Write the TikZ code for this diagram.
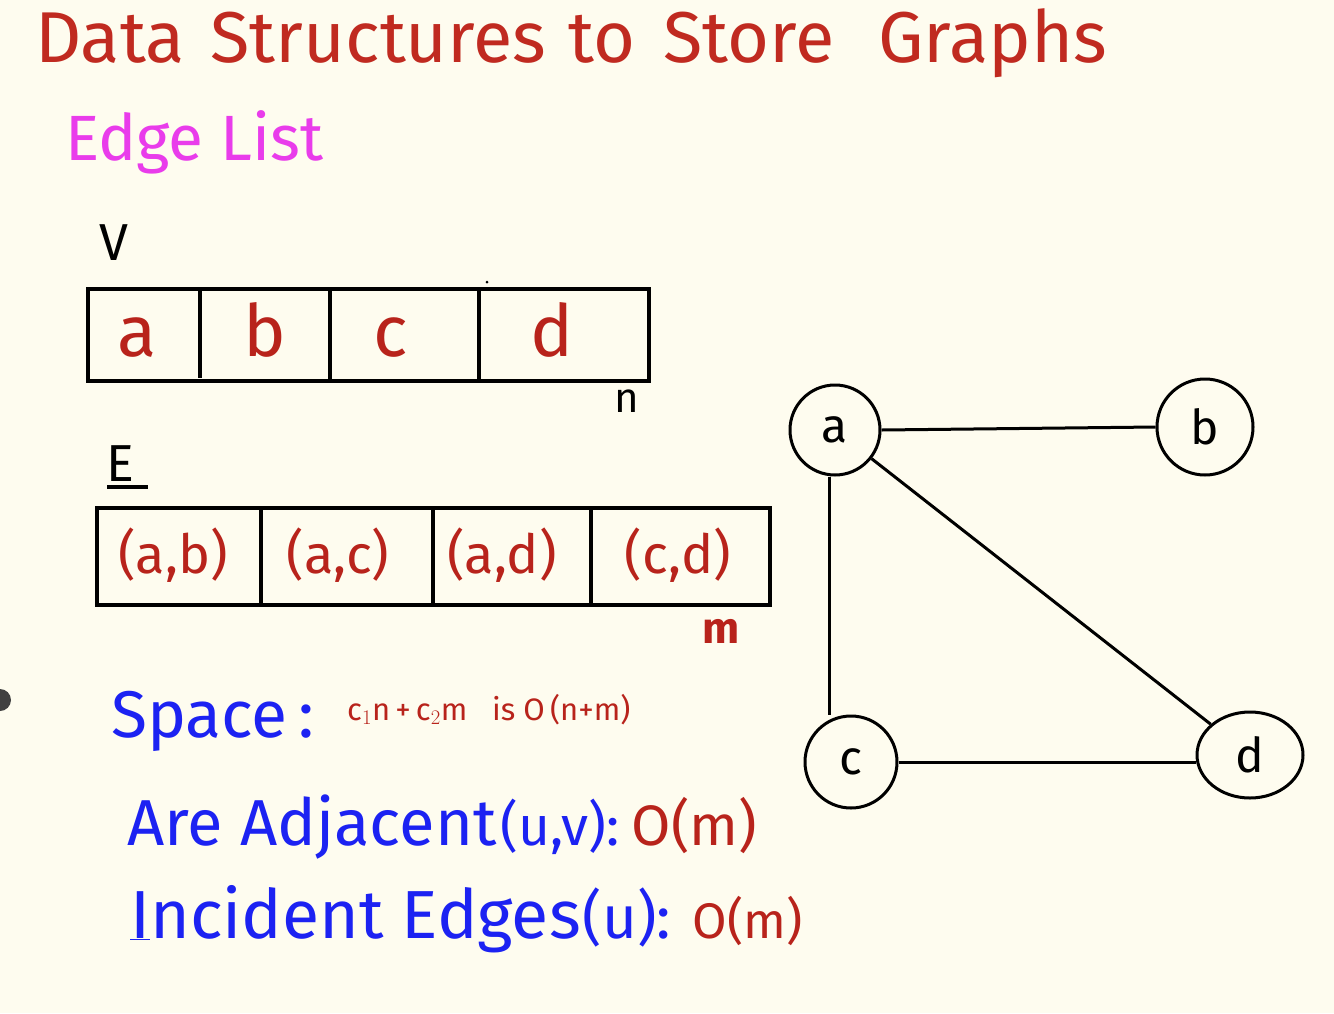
\documentclass[tikz,border=0pt]{standalone}
\usepackage{fontspec}
\setmainfont{Fira Sans}
\usetikzlibrary{shapes.geometric}
\definecolor{bgc}{HTML}{FEFCEF}
\definecolor{titlered}{HTML}{C02A20}
\definecolor{cellred}{HTML}{B8231B}
\definecolor{pinkm}{HTML}{E93CEB}
\definecolor{penblue}{HTML}{1C22F2}
\tikzset{
  fs/.style={font=\fontsize{#1}{#1}\selectfont},
  arr/.style={draw=black, line width=3.2pt},
  cell/.style={cellred, fs=72, anchor=base},
  ecell/.style={cellred, fs=54, anchor=base},
  vert/.style={draw=black, line width=3pt, circle, minimum size=#1, inner sep=0pt, fs=48},
  edge/.style={draw=black, line width=3pt},
  lbl/.style={anchor=base west, inner sep=0pt},
}
\begin{document}
\begin{tikzpicture}[x=1pt,y=-1pt]
\fill[bgc] (0,0) rectangle (1334,1013);
\useasboundingbox (0,0) rectangle (1334,1013);
% side knob
\fill[black!75] (0,700) circle (11);
% title
\node[lbl, titlered, fs=72] (title) at (35,62) {Data\hspace{26pt}Structures\hspace{22pt}to\hspace{28pt}Store\hspace{44pt}Graphs};
\node[lbl, pinkm, fs=64] (edgelist) at (65,160) {Edge List};
% V array
\node[lbl, fs=52] (vlab) at (99,260) {V};
\draw[arr] (88,289) rectangle (649,381);
\draw[arr] (200,289) -- (200,378);
\draw[arr] (330,289) -- (330,381);
\draw[arr] (479,289) -- (479,381);
\node[cell] (va) at (137,356) {a};
\node[cell] (vb) at (265,356) {b};
\node[cell] (vc) at (391,356) {c};
\node[cell] (vd) at (552,356) {d};
\fill (487,282) circle (1.5);
\node[lbl, fs=42] (nlab) at (614,412) {n};
% E array
\node[lbl, fs=52] (elab) at (106,481) {E};
\draw[line width=3.2pt] (107,487) -- (148,487);
\draw[arr] (97,508) rectangle (770,605);
\draw[arr] (261,508) -- (261,605);
\draw[arr] (433,508) -- (433,605);
\draw[arr] (591,508) -- (591,605);
\node[ecell] (eab) at (173,573) {(a,b)};
\node[ecell] (eac) at (338,573) {(a,c)};
\node[ecell] (ead) at (502,573) {(a,d)};
\node[ecell] (ecd) at (678,573) {(c,d)};
\node[lbl, cellred, font=\bfseries\fontsize{44}{44}\selectfont] (mlab) at (702,643) {m};
% bottom text
\node[lbl, penblue, fs=66] (space) at (111,737) {Space\,:};
\node[lbl, cellred, fs=31] (spacev) at (347,720) {c$_1$n\,+\,c$_2$m\ \ \ is\ O\,(n+m)};
\node[lbl, penblue, fs=65] (adj) at (127,845) {Are Adjacent\hspace{4pt}{\fontsize{55}{55}\selectfont(u,v):}\hspace{12pt}{\color{cellred}\fontsize{57}{57}\selectfont O(m)}};
\node[lbl, penblue, fs=68] (inc) at (130,938) {\underline{I}ncident Edges\hspace{2pt}{\fontsize{60}{60}\selectfont(u):}\hspace{22pt}{\color{cellred}\fontsize{50}{50}\selectfont O(m)}};
% graph
\node[vert=90pt] (a) at (835,430) {a};
\node[vert=96pt] (b) at (1205,427) {b};
\node[vert=92pt] (c) at (851,762) {c};
\node[draw=black, line width=3pt, ellipse, minimum width=106pt, minimum height=86pt, inner sep=0pt, fs=48] (d) at (1250,755) {d};
\draw[edge] (a.east) -- (b.west);
\draw[edge] (a.south -| 829,0) -- (c.north -| 829,0);
\draw[edge] (a) -- (d);
\draw[edge] (c.east) -- (d.west |- c.east);
\end{tikzpicture}
\end{document}
